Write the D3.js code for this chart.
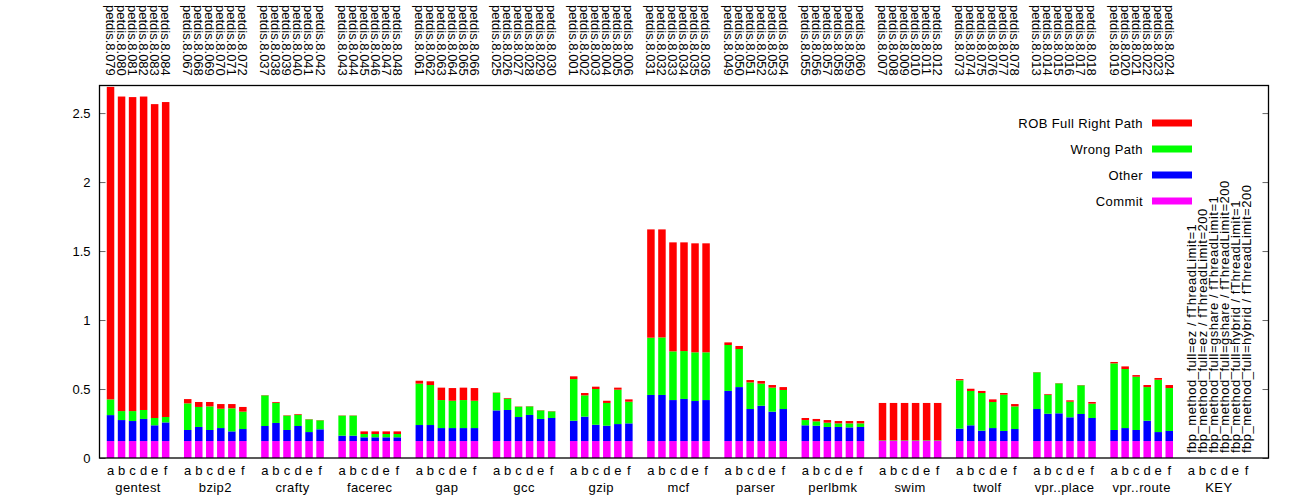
<!DOCTYPE html>
<html>
<head>
<meta charset="utf-8">
<script src="https://cdn.jsdelivr.net/npm/d3@7"></script>
<style>
  body { margin: 0; background: #fff; }
  svg { display: block; font-family: "Liberation Sans", Arial, sans-serif; }
</style>
</head>
<body>
<svg id="chart" width="1298" height="500"></svg>
<script>
const benchmarks = ["gentest", "bzip2", "crafty", "facerec", "gap", "gcc", "gzip",
  "mcf", "parser", "perlbmk", "swim", "twolf", "vpr..place", "vpr..route"];
const barLetters = ["a", "b", "c", "d", "e", "f"];

// run ids shown along the top, six per benchmark
const runIds = [
  "079", "080", "081", "082", "083", "084",
  "067", "068", "069", "070", "071", "072",
  "037", "038", "039", "040", "041", "042",
  "043", "044", "045", "046", "047", "048",
  "061", "062", "063", "064", "065", "066",
  "025", "026", "027", "028", "029", "030",
  "001", "002", "003", "004", "005", "006",
  "031", "032", "033", "034", "035", "036",
  "049", "050", "051", "052", "053", "054",
  "055", "056", "057", "058", "059", "060",
  "007", "008", "009", "010", "011", "012",
  "073", "074", "075", "076", "077", "078",
  "013", "014", "015", "016", "017", "018",
  "019", "020", "021", "022", "023", "024"
];

const keyLabels = [
  "fbp_method_full=ez / fThreadLimit=1",
  "fbp_method_full=ez / fThreadLimit=200",
  "fbp_method_full=gshare / fThreadLimit=1",
  "fbp_method_full=gshare / fThreadLimit=200",
  "fbp_method_full=hybrid / fThreadLimit=1",
  "fbp_method_full=hybrid / fThreadLimit=200"
];

// stacked segments, six bars per benchmark (same order as benchmarks)
const commit = [
  0.123, 0.123, 0.123, 0.123, 0.123, 0.123,
  0.123, 0.123, 0.123, 0.123, 0.123, 0.123,
  0.123, 0.123, 0.123, 0.123, 0.123, 0.123,
  0.123, 0.123, 0.123, 0.123, 0.123, 0.123,
  0.123, 0.123, 0.123, 0.123, 0.123, 0.123,
  0.123, 0.123, 0.123, 0.123, 0.123, 0.123,
  0.123, 0.123, 0.123, 0.123, 0.123, 0.123,
  0.123, 0.123, 0.123, 0.123, 0.123, 0.123,
  0.123, 0.123, 0.123, 0.123, 0.123, 0.123,
  0.123, 0.123, 0.123, 0.123, 0.123, 0.123,
  0.123, 0.123, 0.123, 0.123, 0.123, 0.123,
  0.123, 0.123, 0.123, 0.123, 0.123, 0.123,
  0.123, 0.123, 0.123, 0.123, 0.123, 0.123,
  0.123, 0.123, 0.123, 0.123, 0.123, 0.123
];
const other = [
  0.188, 0.152, 0.145, 0.160, 0.114, 0.135,
  0.080, 0.102, 0.080, 0.094, 0.070, 0.087,
  0.109, 0.131, 0.080, 0.109, 0.065, 0.085,
  0.039, 0.039, 0.027, 0.027, 0.027, 0.027,
  0.116, 0.116, 0.094, 0.094, 0.094, 0.094,
  0.222, 0.225, 0.174, 0.189, 0.160, 0.167,
  0.147, 0.177, 0.118, 0.111, 0.123, 0.128,
  0.334, 0.334, 0.297, 0.305, 0.290, 0.297,
  0.363, 0.391, 0.232, 0.256, 0.213, 0.232,
  0.114, 0.111, 0.102, 0.102, 0.099, 0.102,
  0.002, 0.002, 0.002, 0.002, 0.002, 0.002,
  0.090, 0.114, 0.075, 0.094, 0.073, 0.087,
  0.232, 0.198, 0.201, 0.172, 0.196, 0.167,
  0.080, 0.094, 0.080, 0.147, 0.065, 0.073
];
const wrongPath = [
  0.114, 0.065, 0.072, 0.065, 0.053, 0.039,
  0.193, 0.145, 0.171, 0.140, 0.167, 0.126,
  0.222, 0.146, 0.104, 0.082, 0.092, 0.065,
  0.145, 0.145, 0.024, 0.024, 0.024, 0.024,
  0.300, 0.290, 0.203, 0.198, 0.203, 0.198,
  0.128, 0.082, 0.075, 0.062, 0.062, 0.048,
  0.302, 0.154, 0.259, 0.165, 0.249, 0.157,
  0.415, 0.417, 0.353, 0.347, 0.353, 0.346,
  0.333, 0.276, 0.193, 0.160, 0.174, 0.138,
  0.038, 0.032, 0.031, 0.026, 0.029, 0.026,
  0.003, 0.003, 0.003, 0.003, 0.003, 0.003,
  0.350, 0.249, 0.273, 0.189, 0.263, 0.164,
  0.266, 0.138, 0.217, 0.113, 0.208, 0.104,
  0.483, 0.428, 0.386, 0.244, 0.379, 0.311
];
const robFull = [
  2.265, 2.280, 2.276, 2.272, 2.275, 2.283,
  0.031, 0.036, 0.032, 0.034, 0.031, 0.034,
  0.002, 0.006, 0.003, 0.005, 0.002, 0.002,
  0.002, 0.002, 0.019, 0.019, 0.019, 0.019,
  0.021, 0.027, 0.090, 0.092, 0.090, 0.092,
  0.002, 0.005, 0.002, 0.002, 0.002, 0.002,
  0.020, 0.017, 0.017, 0.016, 0.015, 0.017,
  0.785, 0.783, 0.790, 0.788, 0.790, 0.790,
  0.019, 0.022, 0.017, 0.019, 0.019, 0.021,
  0.015, 0.017, 0.019, 0.017, 0.017, 0.017,
  0.271, 0.271, 0.271, 0.271, 0.271, 0.271,
  0.009, 0.016, 0.015, 0.019, 0.012, 0.017,
  0.002, 0.005, 0.002, 0.010, 0.002, 0.012,
  0.010, 0.019, 0.012, 0.015, 0.013, 0.022
];

const yTicks = [0, 0.5, 1, 1.5, 2, 2.5];

const series = [
  { key: "commit", label: "Commit", color: "#ff00ff" },
  { key: "other", label: "Other", color: "#0000ff" },
  { key: "wrongPath", label: "Wrong Path", color: "#00ff00" },
  { key: "robFull", label: "ROB Full Right Path", color: "#ff0000" }
];

const width = 1298;
const height = 500;
const plot = { left: 99.5, right: 1268.5, top: 85.5, bottom: 458 };
const groupSize = 7; // six bars plus a gap
const fontSize = "13px";
const wideSpacing = "0.4px"; // the png font sets words a little looser

const svg = d3.select("#chart");

// each bar sits at slot g*7 + i
const rows = commit.map((c, k) => ({
  slot: Math.floor(k / 6) * groupSize + (k % 6),
  commit: c,
  other: other[k],
  wrongPath: wrongPath[k],
  robFull: robFull[k]
}));

const x = d3.scaleLinear()
  .domain([-1, 105])
  .range([plot.left, plot.right]);

const y = d3.scaleLinear()
  .domain([0, 2.7])
  .range([plot.bottom, plot.top]);

const barW = (x(1) - x(0)) * 0.68;

const stacked = d3.stack().keys(series.map(s => s.key))(rows);

// Bars
svg.append("g")
  .selectAll("g")
  .data(stacked)
  .join("g")
  .attr("fill", (d, i) => series[i].color)
  .selectAll("rect")
  .data(d => d)
  .join("rect")
  .attr("x", d => x(d.data.slot) - barW / 2)
  .attr("width", barW)
  .attr("y", d => y(d[1]))
  .attr("height", d => Math.max(0, y(d[0]) - y(d[1])));

// Y axis, ticks pointing in, mirrored on the right
const yAxis = svg.append("g")
  .attr("transform", `translate(${plot.left},0)`)
  .call(d3.axisLeft(y).tickValues(yTicks).tickSize(-6).tickPadding(9).tickFormat(d3.format("")));
yAxis.select(".domain").remove();
yAxis.selectAll("line").attr("stroke", "#666");
yAxis.selectAll("text").attr("font-size", fontSize).attr("fill", "#000")
  .attr("font-family", "Liberation Sans, Arial, sans-serif");

const yRight = svg.append("g")
  .attr("transform", `translate(${plot.right},0)`)
  .call(d3.axisRight(y).tickValues(yTicks).tickSize(-6).tickFormat(""));
yRight.select(".domain").remove();
yRight.selectAll("line").attr("stroke", "#666");

// Border
svg.append("rect")
  .attr("x", plot.left)
  .attr("y", plot.top)
  .attr("width", plot.right - plot.left)
  .attr("height", plot.bottom - plot.top)
  .attr("fill", "none")
  .attr("stroke", "#000")
  .attr("stroke-width", 1.3);

// Bottom labels: letters under each bar, then group name
const allGroups = benchmarks.concat(["KEY"]);
allGroups.forEach((name, g) => {
  barLetters.forEach((letter, i) => {
    svg.append("text")
      .attr("x", x(g * groupSize + i))
      .attr("y", 475)
      .attr("text-anchor", "middle")
      .attr("font-size", fontSize)
      .text(letter);
  });
  svg.append("text")
    .attr("x", x(g * groupSize + 2.5))
    .attr("y", 492)
    .attr("text-anchor", "middle")
    .attr("font-size", fontSize)
    .attr("letter-spacing", wideSpacing)
    .text(name);
});

// Top run labels, reading downwards
runIds.forEach((id, k) => {
  const xPos = x(rows[k].slot);
  svg.append("text")
    .attr("transform", `translate(${xPos},5) rotate(90)`)
    .attr("dy", "0.35em")
    .attr("text-anchor", "start")
    .attr("font-size", fontSize)
    .text("petdis.8." + id);
});

// KEY labels, reading upwards
keyLabels.forEach((label, i) => {
  const xPos = x(benchmarks.length * groupSize + i);
  svg.append("text")
    .attr("transform", `translate(${xPos},453) rotate(-90)`)
    .attr("dy", "0.35em")
    .attr("text-anchor", "start")
    .attr("font-size", fontSize)
    .attr("letter-spacing", "0.5px")
    .text(label);
});

// Legend
const legend = svg.append("g").attr("transform", "translate(1143,123)");
series.slice().reverse().forEach((s, i) => {
  legend.append("text")
    .attr("x", 0)
    .attr("y", i * 26)
    .attr("dy", "0.35em")
    .attr("text-anchor", "end")
    .attr("font-size", fontSize)
    .attr("letter-spacing", wideSpacing)
    .text(s.label);
  legend.append("rect")
    .attr("x", 9)
    .attr("y", i * 26 - 3.5)
    .attr("width", 40)
    .attr("height", 7)
    .attr("fill", s.color);
});
</script>
</body>
</html>
